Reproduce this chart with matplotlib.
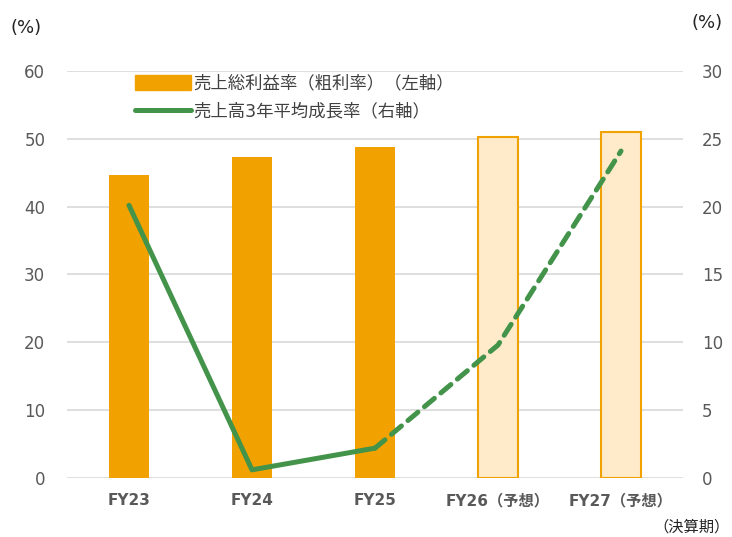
import numpy as np
import matplotlib.pyplot as plt
from matplotlib.patches import Patch
from matplotlib.lines import Line2D

plt.rcParams['font.family'] = ['DejaVu Sans', 'Noto Sans CJK JP']

categories = ['FY23', 'FY24', 'FY25', 'FY26（予想）', 'FY27（予想）']
gross_margin = [44.7, 47.3, 48.8, 50.3, 51.0]
sales_cagr = [20.1, 0.6, 2.2, 9.8, 24.1]
n_actual = 3

orange = '#F2A200'
light = '#FFEBC9'
green = '#43944A'
gray = '#595959'

fig = plt.figure(figsize=(7.32, 5.37), dpi=100)
ax = fig.add_axes([0.0922, 0.1099, 0.8402, 0.7579])
ax2 = ax.twinx()

x = np.arange(len(categories))
for i in range(len(categories)):
    if i < n_actual:
        ax.bar(x[i], gross_margin[i], width=0.33, color=orange, zorder=2)
    else:
        ax.bar(x[i], gross_margin[i], width=0.32, color=light, edgecolor=orange,
               linewidth=1.5, zorder=2)

lw = 3.6
ax2.plot(x[:n_actual], sales_cagr[:n_actual], color=green, lw=lw,
         solid_capstyle='round', solid_joinstyle='round')
ax2.plot(x[n_actual - 1:], sales_cagr[n_actual - 1:], color=green, lw=lw,
         ls=(0, (2.6, 1.7)), dash_capstyle='round')

ax.set_xlim(-0.5, 4.5)
ax.set_ylim(0, 60)
ax2.set_ylim(0, 30)
ax.set_yticks(range(0, 61, 10))
ax2.set_yticks(range(0, 31, 5))
ax.yaxis.grid(True, color='#D9D9D9', lw=1.2, zorder=0)
ax.set_axisbelow(True)

for a in (ax, ax2):
    for s in a.spines.values():
        s.set_visible(False)
    a.tick_params(length=0, labelsize=12, labelcolor=gray)
ax.tick_params(axis='y', pad=16)
ax2.tick_params(axis='y', pad=14)

ax.set_xticks(x)
ax.set_xticklabels(categories, fontsize=11, fontweight='bold', color=gray)
ax.tick_params(axis='x', pad=11)

fig.text(0.014, 0.947, '(%)', fontsize=13, color='#222222', ha='left', va='center')
fig.text(0.945, 0.958, '(%)', fontsize=13, color='#222222', ha='left', va='center')
fig.text(0.997, 0.018, '（決算期）', fontsize=11, color='#222222', ha='right', va='center')

handles = [Patch(color=orange),
           Line2D([0], [0], color=green, lw=lw, solid_capstyle='round')]
labels = ['売上総利益率（粗利率）（左軸）', '売上高3年平均成長率（右軸）']
ax.legend(handles, labels, loc='upper left', bbox_to_anchor=(0.085, 1.03),
          frameon=False, fontsize=12.5, handlelength=3.2, handleheight=1.0,
          handletextpad=0.15, labelspacing=0.6, labelcolor='#404040')

fig.savefig('out.png', dpi=100)
